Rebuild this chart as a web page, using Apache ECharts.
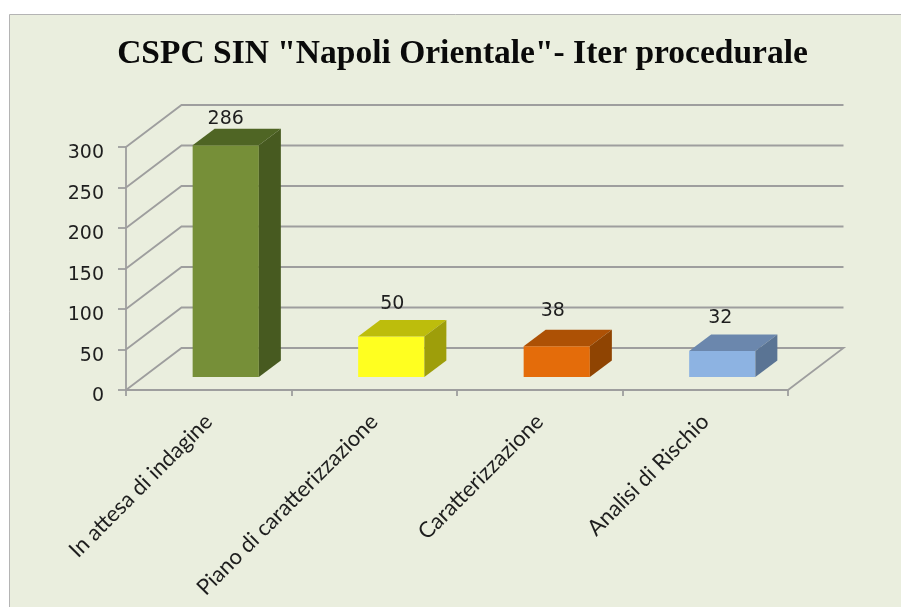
<!DOCTYPE html>
<html><head><meta charset="utf-8">
<style>html,body{margin:0;padding:0;background:#fff}#c{width:901px;height:607px}</style>
<script src="https://cdn.jsdelivr.net/npm/echarts@6/dist/echarts.min.js"></script>
</head><body><div id="c"></div>
<script>
const titleText = 'CSPC SIN "Napoli Orientale"- Iter procedurale';
const categories = ['In attesa di indagine','Piano di caratterizzazione','Caratterizzazione','Analisi di Rischio'];
const values = [286,50,38,32];
const yTicks = [0,50,100,150,200,250,300];
const frontColors = ['#768F38','#FFFF20','#E46C0A','#8DB3E2'];
const topColors = ['#4F6524','#BDBD0C','#AD5105','#6B87AD'];
const sideColors = ['#475A20','#9E9E0A','#8F4402','#5A7494'];

const WALL = [55.5,-42], NEAR = [17,-13], BAR = [22,-16.5];
const LABEL_SHIFT = [[0,-10],[1,-16],[-4,-19],[-2,-17]];
const GREY = '#9E9E9E', TXT = '#1E1E1E';

const chart = echarts.init(document.getElementById('c'), null, {renderer:'canvas'});
function renderWall(params, api){
  const v = api.value(1), band = api.size([1,0])[0];
  const n = categories.length;
  const l = api.coord([0,v]), r = api.coord([n-1,v]);
  const x0 = l[0]-band/2, x1 = r[0]+band/2, y = l[1];
  const pts = [[x0,y],[x0+WALL[0],y+WALL[1]],[x1+WALL[0],y+WALL[1]]];
  if (v === 0) pts.push([x1,y]);
  return {type:'polyline',shape:{points:pts},style:{fill:null,stroke:GREY,lineWidth:1.8}};
}
function renderBar(params, api){
  const i = api.value(0), v = api.value(1), band = api.size([1,0])[0];
  const w = band*0.4;
  const c = api.coord([i,v]), b = api.coord([i,0]);
  const xl = c[0]-w/2+NEAR[0], xr = xl+w, yt = c[1]+NEAR[1], yb = b[1]+NEAR[1];
  const dx = BAR[0], dy = BAR[1];
  const s = LABEL_SHIFT[i];
  return {type:'group',children:[
    {type:'polygon',shape:{points:[[xl,yt],[xr,yt],[xr,yb],[xl,yb]]},style:{fill:frontColors[i]}},
    {type:'polygon',shape:{points:[[xl,yt],[xl+dx,yt+dy],[xr+dx,yt+dy],[xr,yt]]},style:{fill:topColors[i]}},
    {type:'polygon',shape:{points:[[xr,yt],[xr+dx,yt+dy],[xr+dx,yb+dy],[xr,yb]]},style:{fill:sideColors[i]}},
    {type:'text',style:{text:String(values[i]),x:(xl+xr)/2+s[0],y:yt+dy+s[1],align:'center',verticalAlign:'middle',
      font:'19px "DejaVu Sans"',fill:TXT}}
  ]};
}
chart.setOption({
  animation:false,
  backgroundColor:'#ffffff',
  graphic:[{type:'rect',z:-10,shape:{x:9.5,y:14.5,width:900,height:600},style:{fill:'#EAEEDE',stroke:'#B4B4B4',lineWidth:1}}],
  title:{text:titleText,left:457.5,top:32,textAlign:'center',
    textStyle:{fontFamily:'"Liberation Serif"',fontWeight:'bold',fontSize:33.5,color:'#0A0A0A'}},
  grid:{left:126,right:113,top:147,bottom:217,containLabel:false},
  xAxis:{type:'category',data:categories,
    axisLine:{lineStyle:{color:GREY,width:1.8}},
    axisTick:{show:true,length:6,lineStyle:{color:GREY,width:1.8}},
    axisLabel:{rotate:45,interval:0,margin:28,fontFamily:'Lato',fontSize:22,color:TXT},
    splitLine:{show:false}},
  yAxis:{type:'value',min:0,max:300,interval:50,
    axisLine:{show:true,lineStyle:{color:GREY,width:1.8}},
    axisTick:{show:true,length:8,lineStyle:{color:GREY,width:1.8}},
    axisLabel:{margin:22,verticalAlign:'top',lineHeight:13,fontFamily:'"DejaVu Sans"',fontSize:19,color:TXT},
    splitLine:{show:false}},
  series:[
    {type:'custom',z:1,silent:true,clip:false,renderItem:renderWall,encode:{x:0,y:1},
      data:yTicks.map(t=>[0,t])},
    {type:'custom',z:2,silent:true,clip:false,renderItem:renderBar,encode:{x:0,y:1},
      data:values.map((v,i)=>[i,v])}
  ]
});
</script></body></html>
